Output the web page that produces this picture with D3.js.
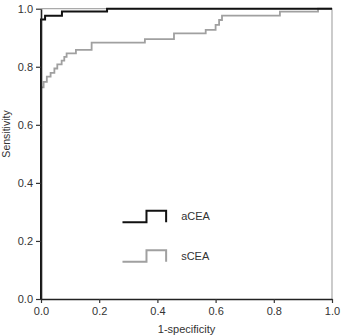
<!DOCTYPE html>
<html><head><meta charset="utf-8">
<script src="https://cdn.jsdelivr.net/npm/d3@7"></script>
<style>body{margin:0;background:#fff}svg{display:block}text{font-family:"Liberation Sans",Arial,sans-serif}</style>
</head><body><svg id="c" width="341" height="336"></svg>
<script>
// step-curve data: [1-specificity, sensitivity] at each step
const aCEA = [[0,0],[0,0.963],[0.014,0.963],[0.014,0.976],[0.072,0.976],[0.072,0.99],[0.227,0.99],[0.227,1.0],[1,1]];
const sCEA = [[0,0],[0,0.729],[0.009,0.729],[0.009,0.748],[0.020,0.748],[0.020,0.766],[0.033,0.766],[0.033,0.779],
  [0.046,0.779],[0.046,0.794],[0.056,0.794],[0.056,0.808],[0.071,0.808],[0.071,0.821],[0.080,0.821],[0.080,0.834],
  [0.088,0.834],[0.088,0.846],[0.120,0.846],[0.120,0.858],[0.174,0.858],[0.174,0.883],[0.357,0.883],[0.357,0.895],
  [0.457,0.895],[0.457,0.915],[0.566,0.915],[0.566,0.927],[0.600,0.927],[0.600,0.944],[0.612,0.944],[0.612,0.961],
  [0.622,0.961],[0.622,0.976],[0.821,0.976],[0.821,0.99],[0.952,0.99],[0.952,1.0],[1,1]];
const seriesNames = ["aCEA","sCEA"];
const seriesColors = ["#111111","#a0a0a0"];
const ticks = [0,0.2,0.4,0.6,0.8,1.0];
const xLabel = "1-specificity", yLabel = "Sensitivity";

const svg = d3.select("#c");
const L=41, R=332, T=8.7, B=299;
const x = d3.scaleLinear().domain([0,1]).range([L,R]);
const y = d3.scaleLinear().domain([0,1]).range([B,T]);

// frame top/right
svg.append("path").attr("d",`M${L},${T}H${R}V${B}`).attr("fill","none").attr("stroke","#aaa").attr("stroke-width",1.2);

const line = d3.line().x(d=>x(d[0])).y(d=>y(d[1]));
[sCEA,aCEA].forEach((s,i)=>{
  const idx = i===0?1:0;
  svg.append("path").datum(s).attr("d",line).attr("fill","none")
    .attr("stroke",seriesColors[idx]).attr("stroke-width",idx===0?2:1.8);
});

const xa = svg.append("g").attr("transform",`translate(0,${B})`)
  .call(d3.axisBottom(x).tickValues(ticks).tickFormat(d3.format(".1f")).tickSize(4).tickSizeOuter(0));
const ya = svg.append("g").attr("transform",`translate(${L},0)`)
  .call(d3.axisLeft(y).tickValues(ticks).tickFormat(d3.format(".1f")).tickSize(5).tickSizeOuter(0));
[xa,ya].forEach(a=>{
  a.select(".domain").attr("stroke","#222").attr("stroke-width",1.6);
  a.selectAll(".tick line").attr("stroke","#333").attr("stroke-width",1.2);
  a.selectAll(".tick text").attr("fill","#333").attr("font-size",11);
});
xa.selectAll(".tick text").attr("dy","0.85em");
ya.selectAll(".tick text").attr("x",-8);

svg.append("text").attr("x",(L+R)/2).attr("y",333).attr("text-anchor","middle")
  .attr("font-size",11).attr("fill","#333").text(xLabel);
svg.append("text").attr("transform",`translate(10,134) rotate(-90)`).attr("text-anchor","middle")
  .attr("font-size",10.5).attr("fill","#333").text(yLabel);

// legend
const lx = x(0.28), lw = x(0.43)-x(0.28);
seriesNames.forEach((n,i)=>{
  const by = y(0.264) + i*39.4;
  const g = svg.append("g");
  const sx = d3.scaleLinear().domain([0,1]).range([lx,lx+lw]);
  const pts = [[0,0],[0.55,0],[0.55,1],[1,1],[1,0]];
  g.append("path").attr("d",d3.line().x(d=>sx(d[0])).y(d=>by-d[1]*11.6)(pts))
    .attr("fill","none").attr("stroke",seriesColors[i]).attr("stroke-width",2);
  g.append("text").attr("x",lx+lw+15).attr("y",by-6).attr("dy","0.35em")
    .attr("font-size",11).attr("fill","#333").text(n);
});
</script></body></html>
